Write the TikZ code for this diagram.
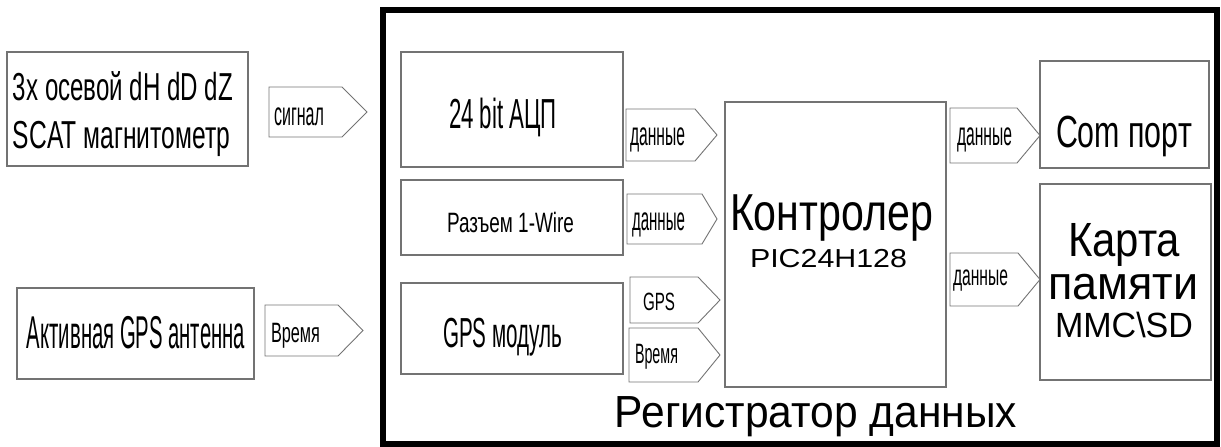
\documentclass[tikz,border=0pt]{standalone}
\usepackage{fontspec}
\setmainfont{Liberation Sans}
\usepackage{graphicx}
\definecolor{boxgray}{RGB}{115,115,115}
\newcommand\ft[3]{\resizebox{#1pt}{\height}{\fontsize{#2pt}{#2pt}\selectfont #3}}
\newcommand\sig[7]{% name, x1, xp, x2, ytop, ybot, ymid
  \draw[sigline] (#2,#5) -- (#3,#5) -- (#4,#7) -- (#3,#6) -- (#2,#6) -- cycle;
  \coordinate (#1) at (#4,#7);}
\begin{document}
\begin{tikzpicture}[x=1pt,y=-1pt,
  box/.style={draw=boxgray, line width=1.1pt, inner sep=0pt, outer sep=0pt, fill=none},
  sigline/.style={draw=boxgray, line width=0.9pt, line join=miter},
  lbl/.style={inner sep=0pt, outer sep=0pt, anchor=base}]
\useasboundingbox (0,0) rectangle (1221,447);
% outer frame
\node[draw=black, line width=6pt, inner sep=0pt, minimum width=834pt, minimum height=434pt] (frame) at (800,227) {};
% boxes
\node[box, minimum width=241pt, minimum height=114pt] (mag) at (127.5,109) {};
\node[box, minimum width=237pt, minimum height=91pt] (ant) at (135.5,333.5) {};
\node[box, minimum width=222pt, minimum height=115pt] (adc) at (512,109.5) {};
\node[box, minimum width=222pt, minimum height=75pt] (wire) at (512,217.5) {};
\node[box, minimum width=222pt, minimum height=91pt] (gpsm) at (512,328.5) {};
\node[box, minimum width=221pt, minimum height=285pt] (ctl) at (835.5,244.5) {};
\node[box, minimum width=169pt, minimum height=107pt] (com) at (1124.5,114.5) {};
\node[box, minimum width=171pt, minimum height=196pt] (card) at (1125.5,282) {};
% signal arrows
\sig{s1}{269}{342}{367}{87}{137}{112}
\sig{s2}{265}{338}{363}{305}{356}{330.5}
\sig{s3}{626}{695}{717}{109}{161}{135}
\sig{s4}{627}{702}{717}{194}{244}{219}
\sig{s5}{630}{698}{720}{277}{323}{300}
\sig{s6}{629}{698}{720}{328}{382}{355}
\sig{s7}{950}{1017}{1040}{108}{163}{135.5}
\sig{s8}{950}{1018}{1040}{253}{306}{279.5}
% texts
\node[lbl] (t1a) at (123,100) {\ft{220}{39}{3x осевой dH dD dZ}};
\node[lbl] (t1b) at (121.5,148) {\ft{217}{39}{SCAT магнитометр}};
\node[lbl] (t2) at (299,125) {\ft{50}{33}{сигнал}};
\node[lbl] (t3) at (136,348) {\ft{218}{46}{Активная GPS антенна}};
\node[lbl] (t4) at (295.5,342) {\ft{49}{28}{Время}};
\node[lbl] (t5) at (503,128) {\ft{108}{42}{24 bit АЦП}};
\node[lbl] (t6) at (657.5,145) {\ft{55}{33}{данные}};
\node[lbl] (t7) at (510.5,232) {\ft{127}{28}{Разъем 1-Wire}};
\node[lbl] (t8) at (658.5,230) {\ft{53}{33}{данные}};
\node[lbl] (t9) at (502.5,347) {\ft{119}{42}{GPS модуль}};
\node[lbl] (t10) at (659,310) {\ft{32}{25}{GPS}};
\node[lbl] (t11) at (656.5,363) {\ft{43}{28}{Время}};
\node[lbl] (t12) at (831.5,230) {\ft{203}{52}{Контролер}};
\node[lbl] (t13) at (828.5,267) {\ft{157}{26}{PIC24H128}};
\node[lbl] (t14) at (984.5,145) {\ft{55}{33}{данные}};
\node[lbl] (t15) at (1124,147) {\ft{136}{45}{Com порт}};
\node[lbl] (t16) at (980.5,285) {\ft{55}{29}{данные}};
\node[lbl] (t17) at (1124,256) {\ft{112}{48}{Карта}};
\node[lbl] (t18) at (1123,299) {\ft{150}{47}{памяти}};
\node[lbl] (t19) at (1124,337) {\ft{138}{35}{MMC\textbackslash SD}};
\node[lbl] (t20) at (816,427) {\ft{402}{45}{Регистратор данных}};
\end{tikzpicture}
\end{document}
